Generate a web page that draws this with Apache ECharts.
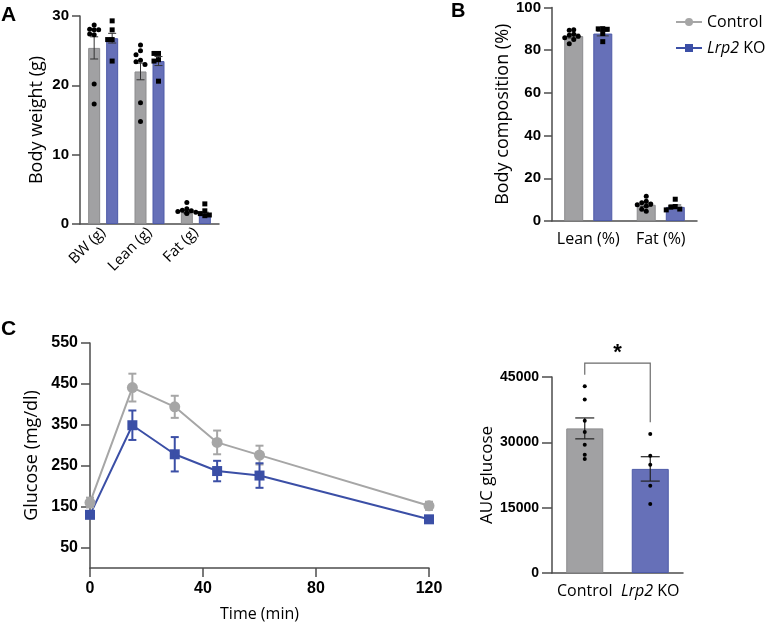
<!DOCTYPE html>
<html>
<head>
<meta charset="utf-8">
<script src="https://cdn.jsdelivr.net/npm/echarts@6/dist/echarts.min.js"></script>
<style>
  html, body { margin: 0; padding: 0; background: #fff; }
  #main { width: 765px; height: 624px; }
</style>
</head>
<body>
<div id="main"></div>
<script>
// ---- panel A: body weight (g) ----
const catA = ['BW (g)', 'Lean (g)', 'Fat (g)']
const meanA_ctrl = [25.4, 22.0, 1.8]
const meanA_ko = [26.8, 23.5, 1.5]
const semA_ctrl = [1.6, 1.2, 0.2]
const semA_ko = [0.7, 0.65, 0.2]
const dotsA_ctrl = [
  [28.7, 28.1, 28.0, 28.0, 27.4, 27.3, 20.2, 17.3],
  [25.8, 25.0, 24.4, 23.6, 23.4, 23.0, 17.5, 14.8],
  [3.1, 2.2, 2.0, 1.9, 1.8, 1.7, 1.6, 1.5]
]
const dotsA_ko = [
  [29.3, 28.0, 26.6, 26.6, 23.5],
  [24.6, 24.6, 23.7, 23.5, 20.6],
  [2.9, 1.9, 1.5, 1.3, 1.2]
]

// ---- panel B: body composition (%) ----
const catB = ['Lean (%)', 'Fat (%)']
const meanB_ctrl = [86.6, 7.6]
const meanB_ko = [87.8, 6.6]
const semB_ctrl = [0.9, 0.8]
const semB_ko = [1.1, 0.9]
const dotsB_ctrl = [
  [89.6, 89.3, 87.5, 87.0, 86.5, 85.8, 85.0, 83.0],
  [11.6, 9.2, 8.5, 8.0, 7.6, 7.0, 5.5, 4.6]
]
const dotsB_ko = [
  [90.1, 90.0, 89.8, 87.8, 84.0],
  [10.2, 6.8, 6.5, 5.6, 5.2]
]

// ---- panel C: glucose tolerance ----
const timeC = [0, 15, 30, 45, 60, 120]
const glucCtrl = [160, 441, 394, 307, 276, 152]
const glucCtrlSem = [12, 34, 27, 29, 23, 10]
const glucKo = [130, 349, 278, 237, 226, 119]
const glucKoSem = [8, 36, 42, 25, 30, 6]
const glucTicks = [50, 150, 250, 350, 450, 550]

// ---- panel D: AUC ----
const catD = ['Control', 'Lrp2 KO']
const aucMean = [33200, 23900]
const aucSem = [2400, 2800]
const aucDots = [
  [42860, 39810, 34980, 32390, 29470, 27170, 26190],
  [31930, 26940, 24880, 20050, 15850]
]

const GRAY = '#a1a1a3'
const GRAY_EDGE = '#8c8c8e'
const BLUE = '#6670b8'
const BLUE_EDGE = '#4e5ba8'
const LINE_GRAY = '#a6a6a6'
const LINE_BLUE = '#3b4fa6'
const AXIS = '#4d4d4d'
const TICK_FONT = 'Liberation Sans'
const TEXT_FONT = 'Open Sans'

// simple beeswarm: push a dot sideways if it overlaps one already placed
function swarm(vals, pxPerUnit, r, step) {
  const placed = []
  return vals.map(v => {
    const y = v * pxPerUnit
    const tries = [0, -step, step, -2 * step, 2 * step]
    for (const dx of tries) {
      if (!placed.some(p => Math.abs(p[0] - dx) < step * 0.9 && Math.abs(p[1] - y) < r * 0.9)) {
        placed.push([dx, y])
        return dx
      }
    }
    placed.push([0, y])
    return 0
  })
}

function dotData(groups, pxPerUnit, r, step) {
  const out = []
  groups.forEach((vals, ci) => {
    const offs = swarm(vals, pxPerUnit, r, step)
    vals.forEach((v, k) => out.push([ci, v, offs[k]]))
  })
  return out
}

function errData(means, sems) {
  return means.map((m, i) => [i, m - sems[i], m + sems[i]])
}

function dotSeries(xi, yi, data, shift, shape, size) {
  return {
    type: 'custom', xAxisIndex: xi, yAxisIndex: yi, z: 5, clip: false,
    data: data,
    renderItem(params, api) {
      const p = api.coord([api.value(0), api.value(1)])
      const x = p[0] + shift + api.value(2)
      const s = size
      if (shape === 'rect') {
        return { type: 'rect', shape: { x: x - s / 2, y: p[1] - s / 2, width: s, height: s }, style: { fill: '#000' } }
      }
      return { type: 'circle', shape: { cx: x, cy: p[1], r: s / 2 }, style: { fill: '#000' } }
    }
  }
}

function errSeries(xi, yi, data, shift, cap, color, width) {
  return {
    type: 'custom', xAxisIndex: xi, yAxisIndex: yi, z: 4, clip: false,
    data: data,
    renderItem(params, api) {
      const lo = api.coord([api.value(0), api.value(1)])
      const hi = api.coord([api.value(0), api.value(2)])
      const x = lo[0] + shift
      const st = { stroke: color, lineWidth: width }
      return {
        type: 'group',
        children: [
          { type: 'line', shape: { x1: x, y1: lo[1], x2: x, y2: hi[1] }, style: st },
          { type: 'line', shape: { x1: x - cap / 2, y1: lo[1], x2: x + cap / 2, y2: lo[1] }, style: st },
          { type: 'line', shape: { x1: x - cap / 2, y1: hi[1], x2: x + cap / 2, y2: hi[1] }, style: st }
        ]
      }
    }
  }
}

function valueAxis(grid, max, interval, tickLen, fontSize, name, nameGap, nameSize) {
  return {
    type: 'value', gridIndex: grid, min: 0, max: max, interval: interval,
    splitLine: { show: false },
    axisLine: { show: true, lineStyle: { color: AXIS, width: 1.5 } },
    axisTick: { show: true, length: tickLen, lineStyle: { color: AXIS, width: 1.5 } },
    axisLabel: { color: '#000', fontFamily: TICK_FONT, fontWeight: 'bold', fontSize: fontSize, margin: tickLen + 3,
      formatter: v => String(v) },
    name: name, nameLocation: 'middle', nameGap: nameGap,
    nameTextStyle: { color: '#000', fontFamily: TEXT_FONT, fontSize: nameSize }
  }
}

const richItalic = { i: { fontStyle: 'italic', fontFamily: TEXT_FONT, fontSize: 16, color: '#000' } }

const chart = echarts.init(document.getElementById('main'))

const pxA = 208 / 30
const pxB = 215 / 100
const pxD = 196 / 45000

chart.setOption({
  animation: false,
  grid: [
    { left: 80, top: 16, width: 139, height: 208 },
    { left: 552, top: 6, width: 145, height: 215 },
    { left: 90, top: 343, width: 339, height: 225 },
    { left: 552, top: 377, width: 131, height: 196 }
  ],
  legend: {
    orient: 'vertical', left: 670, top: 9, itemGap: 10,
    itemWidth: 26, itemHeight: 10,
    data: ['Control', 'Lrp2 KO'],
    formatter: name => name === 'Lrp2 KO' ? '{i|Lrp2} KO' : name,
    textStyle: { color: '#000', fontFamily: TEXT_FONT, fontSize: 16, rich: richItalic }
  },
  xAxis: [
    {
      type: 'category', gridIndex: 0, data: catA,
      axisLine: { lineStyle: { color: AXIS, width: 1.5 } },
      axisTick: { show: false },
      axisLabel: { rotate: 45, color: '#000', fontFamily: TEXT_FONT, fontSize: 15, margin: 6, interval: 0 }
    },
    {
      type: 'category', gridIndex: 1, data: catB,
      axisLine: { lineStyle: { color: AXIS, width: 1.5 } },
      axisTick: { show: false },
      axisLabel: { color: '#000', fontFamily: TEXT_FONT, fontSize: 16, margin: 10, interval: 0 }
    },
    {
      type: 'value', gridIndex: 2, min: 0, max: 120, interval: 40,
      splitLine: { show: false },
      axisLine: { show: true, onZero: false, lineStyle: { color: AXIS, width: 1.5 } },
      axisTick: { show: true, length: 9, lineStyle: { color: AXIS, width: 1.5 } },
      axisLabel: { color: '#000', fontFamily: TICK_FONT, fontWeight: 'bold', fontSize: 16, margin: 13 },
      name: 'Time (min)', nameLocation: 'middle', nameGap: 38,
      nameTextStyle: { color: '#000', fontFamily: TEXT_FONT, fontSize: 16 }
    },
    {
      type: 'category', gridIndex: 3, data: catD,
      axisLine: { lineStyle: { color: AXIS, width: 1.5 } },
      axisTick: { show: false },
      axisLabel: {
        color: '#000', fontFamily: TEXT_FONT, fontSize: 16, margin: 10, interval: 0,
        formatter: v => v === 'Lrp2 KO' ? '{i|Lrp2} KO' : v,
        rich: richItalic
      }
    }
  ],
  yAxis: [
    valueAxis(0, 30, 10, 8, 15, 'Body weight (g)', 34, 18),
    valueAxis(1, 100, 20, 8, 15, 'Body composition (%)', 29, 18),
    Object.assign(valueAxis(2, 550, 50, 9, 16, 'Glucose (mg/dl)', 49, 18), {
      axisLabel: { color: '#000', fontFamily: TICK_FONT, fontWeight: 'bold', fontSize: 16, margin: 12, customValues: glucTicks },
      axisTick: { show: true, length: 9, lineStyle: { color: AXIS, width: 1.5 }, customValues: glucTicks }
    }),
    valueAxis(3, 45000, 15000, 10, 14, 'AUC glucose', 56, 17)
  ],
  graphic: [
    { type: 'text', left: 1, top: 5, style: { text: 'A', font: 'bold 21px "Liberation Sans"', fill: '#000' } },
    { type: 'text', left: 451, top: 1, style: { text: 'B', font: 'bold 20px "Liberation Sans"', fill: '#000' } },
    { type: 'text', left: 1, top: 319, style: { text: 'C', font: 'bold 21px "Liberation Sans"', fill: '#000' } }
  ],
  series: [
    // panel A bars
    { name: 'ctrlA', type: 'bar', xAxisIndex: 0, yAxisIndex: 0, data: meanA_ctrl, barWidth: 12, barGap: '50%',
      itemStyle: { color: GRAY, borderColor: GRAY_EDGE, borderWidth: 1 } },
    { name: 'koA', type: 'bar', xAxisIndex: 0, yAxisIndex: 0, data: meanA_ko, barWidth: 12,
      itemStyle: { color: BLUE, borderColor: BLUE_EDGE, borderWidth: 1 } },
    errSeries(0, 0, errData(meanA_ctrl, semA_ctrl), -9, 8, '#333', 1),
    errSeries(0, 0, errData(meanA_ko, semA_ko), 9, 8, '#333', 1),
    dotSeries(0, 0, dotData(dotsA_ctrl, pxA, 5, 4.5), -9, 'circle', 5),
    dotSeries(0, 0, dotData(dotsA_ko, pxA, 5, 4.5), 9, 'rect', 5),

    // panel B bars
    { name: 'ctrlB', type: 'bar', xAxisIndex: 1, yAxisIndex: 1, data: meanB_ctrl, barWidth: 19, barGap: '53%',
      itemStyle: { color: GRAY, borderColor: GRAY_EDGE, borderWidth: 1 } },
    { name: 'koB', type: 'bar', xAxisIndex: 1, yAxisIndex: 1, data: meanB_ko, barWidth: 19,
      itemStyle: { color: BLUE, borderColor: BLUE_EDGE, borderWidth: 1 } },
    errSeries(1, 1, errData(meanB_ctrl, semB_ctrl), -14.5, 12, '#333', 1),
    errSeries(1, 1, errData(meanB_ko, semB_ko), 14.5, 12, '#333', 1),
    dotSeries(1, 1, dotData(dotsB_ctrl, pxB, 5, 4.5), -14.5, 'circle', 5),
    dotSeries(1, 1, dotData(dotsB_ko, pxB, 5, 4.5), 14.5, 'rect', 5),

    // panel C lines
    { name: 'Control', type: 'line', xAxisIndex: 2, yAxisIndex: 2, z: 3,
      data: timeC.map((t, i) => [t, glucCtrl[i]]),
      symbol: 'circle', symbolSize: 11,
      lineStyle: { color: LINE_GRAY, width: 2 }, itemStyle: { color: LINE_GRAY } },
    { name: 'Lrp2 KO', type: 'line', xAxisIndex: 2, yAxisIndex: 2, z: 3,
      data: timeC.map((t, i) => [t, glucKo[i]]),
      symbol: 'rect', symbolSize: 10,
      lineStyle: { color: LINE_BLUE, width: 2 }, itemStyle: { color: LINE_BLUE } },
    errSeries(2, 2, timeC.map((t, i) => [t, glucCtrl[i] - glucCtrlSem[i], glucCtrl[i] + glucCtrlSem[i]]), 0, 8, LINE_GRAY, 2),
    errSeries(2, 2, timeC.map((t, i) => [t, glucKo[i] - glucKoSem[i], glucKo[i] + glucKoSem[i]]), 0, 8, LINE_BLUE, 2),

    // panel D AUC
    { name: 'auc', type: 'bar', xAxisIndex: 3, yAxisIndex: 3, barWidth: 37,
      data: aucMean.map((v, i) => ({
        value: v,
        itemStyle: i === 0
          ? { color: GRAY, borderColor: GRAY_EDGE, borderWidth: 1 }
          : { color: BLUE, borderColor: BLUE_EDGE, borderWidth: 1 }
      })) },
    errSeries(3, 3, errData(aucMean, aucSem), 0, 19, '#222', 1.2),
    dotSeries(3, 3, dotData(aucDots, pxD, 3, 3), 0, 'circle', 4),
    // significance bracket
    {
      type: 'custom', xAxisIndex: 3, yAxisIndex: 3, clip: false, z: 6,
      data: [[0, 1, 45500, 34600, 48200]],
      renderItem(params, api) {
        const a = api.coord([api.value(0), api.value(2)])
        const b = api.coord([api.value(1), api.value(3)])
        const top = api.coord([api.value(0), api.value(4)])[1]
        const st = { stroke: '#6b6b6b', lineWidth: 1.2, fill: null }
        return {
          type: 'group',
          children: [
            { type: 'polyline', shape: { points: [[a[0], a[1]], [a[0], top], [b[0], top], [b[0], b[1]]] }, style: st },
            { type: 'text', x: (a[0] + b[0]) / 2, y: top + 1,
              style: { text: '*', font: 'bold 22px "Liberation Sans"', fill: '#000', align: 'center', verticalAlign: 'bottom' } }
          ]
        }
      }
    }
  ]
})
</script>
</body>
</html>
